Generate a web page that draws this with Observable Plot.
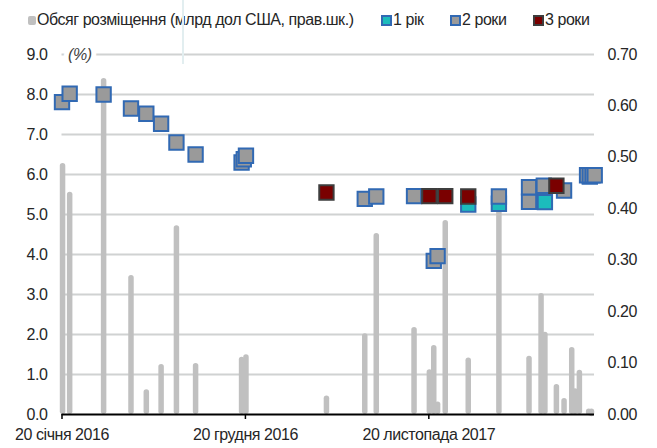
<!DOCTYPE html>
<html>
<head>
<meta charset="utf-8">
<script src="https://cdn.jsdelivr.net/npm/d3@7"></script>
<script src="https://cdn.jsdelivr.net/npm/@observablehq/plot@0.6"></script>
<style>
  body { margin: 0; background: #fff; }
  #wrap { position: relative; width: 657px; height: 448px; overflow: hidden;
          font-family: "Liberation Sans", Arial, sans-serif; color: #262626; }
  #legend { position: relative; height: 36px; font-size: 16px; letter-spacing: -0.45px; }
  .li { position: absolute; top: 10px; display: flex; align-items: center; white-space: nowrap; line-height: 20px; }
  .sw { box-sizing: border-box; margin-right: 1px; }
  #vline { position: absolute; left: 182px; top: 0; width: 2px; height: 64px; background: #e2eef0; z-index: 5; }
</style>
</head>
<body>
<div id="wrap">
  <div id="legend"></div>
  <div id="chart"></div>
  <div id="vline"></div>
</div>
<script>
// ---------- data ----------
const barDates = ["2016-01-21","2016-02-03","2016-04-05","2016-05-25","2016-06-22","2016-07-19","2016-08-16","2016-09-20","2016-12-13","2016-12-21",
                  "2017-05-17","2017-07-26","2017-08-16","2017-10-24","2017-11-21","2017-11-29","2017-12-06","2017-12-20",
                  "2018-01-31","2018-03-28","2018-05-22","2018-06-13","2018-06-20","2018-07-11","2018-07-25","2018-08-08","2018-08-14","2018-08-22","2018-09-08","2018-09-13"];
const barValues = [0.488,0.432,0.653,0.270,0.048,0.097,0.367,0.099,0.111,0.116,
                   0.036,0.157,0.352,0.169,0.087,0.134,0.024,0.377,
                   0.110,0.410,0.113,0.235,0.160,0.058,0.031,0.130,0.050,0.086,0.008,0.006];

const oneYearDates = ["2018-01-31","2018-03-28","2018-06-20","2018-09-10"];
const oneYearRates = [5.25,5.27,5.31,5.95];

const twoYearDates = ["2016-01-20","2016-02-03","2016-04-05","2016-05-25","2016-06-22","2016-07-19","2016-08-16","2016-09-20",
                      "2016-12-13","2016-12-17","2016-12-21","2017-07-26","2017-08-16","2017-10-24","2017-11-29","2017-12-06",
                      "2018-03-28","2018-05-22","2018-05-22","2018-06-18","2018-07-25","2018-09-05","2018-09-10","2018-09-15","2018-09-19"];
const twoYearRates = [7.81,8.02,8.00,7.65,7.52,7.27,6.80,6.50,
                      6.30,6.38,6.47,5.39,5.45,5.46,3.84,3.96,
                      5.45,5.32,5.68,5.72,5.60,5.98,5.98,5.98,5.98];

const threeYearDates = ["2017-05-17","2017-11-21","2017-12-20","2018-01-31","2018-07-11"];
const threeYearRates = [5.55,5.46,5.46,5.45,5.72];

const leftTicks = [0,1,2,3,4,5,6,7,8,9];
const rightTicks = [0,0.1,0.2,0.3,0.4,0.5,0.6,0.7];
const xTickDates = ["2016-01-20","2016-12-20","2017-11-20"];
const xTickLabels = ["20 січня 2016","20 грудня 2016","20 листопада 2017"];

const legendItems = [
  {label: "Обсяг розміщення (млрд дол США, прав.шк.)", left: 28, w: 8, h: 9, fill: "#c0c0c0", stroke: "none", radius: 2},
  {label: "1 рік", left: 381, w: 11, h: 11, fill: "#1cbcbc", stroke: "#3169b3"},
  {label: "2 роки", left: 450, w: 11, h: 11, fill: "#9a9a9a", stroke: "#3169b3"},
  {label: "3 роки", left: 533, w: 11, h: 11, fill: "#7a0000", stroke: "#3d3d3d"}
];

// ---------- build ----------
const leftMax = 9, rightMax = 0.7;
const toLeft = v => v * leftMax / rightMax;
const parse = s => new Date(s + "T00:00:00Z");

const bars = barDates.map((d, i) => ({date: parse(d), v: toLeft(barValues[i])}));
const s1 = oneYearDates.map((d, i) => ({date: parse(d), r: oneYearRates[i]}));
const s2 = twoYearDates.map((d, i) => ({date: parse(d), r: twoYearRates[i]}));
const s3 = threeYearDates.map((d, i) => ({date: parse(d), r: threeYearRates[i]}));
const xTicks = xTickDates.map(parse);

const legend = document.getElementById("legend");
legendItems.forEach(it => {
  const div = document.createElement("div");
  div.className = "li";
  div.style.left = it.left + "px";
  const sw = document.createElement("span");
  sw.className = "sw";
  sw.style.width = it.w + "px";
  sw.style.height = it.h + "px";
  sw.style.background = it.fill;
  sw.style.border = it.stroke === "none" ? "none" : "2px solid " + it.stroke;
  if (it.radius) sw.style.borderRadius = it.radius + "px";
  div.appendChild(sw);
  const t = document.createElement("span");
  t.textContent = it.label;
  div.appendChild(t);
  legend.appendChild(div);
});

const domainEnd = new Date(parse("2016-01-20").getTime() + 972.6 * 86400000);
const sqR = 8.1;

const chart = Plot.plot({
  width: 657,
  height: 412,
  marginLeft: 61.5,
  marginRight: 63,
  marginTop: 18,
  marginBottom: 34,
  x: {type: "utc", domain: [parse("2016-01-20"), domainEnd]},
  y: {domain: [0, leftMax]},
  style: {fontFamily: "'Liberation Sans', Arial, sans-serif", fontSize: "16px", letterSpacing: "-0.45px", color: "#262626", background: "#fff"},
  marks: [
    Plot.ruleY(leftTicks.filter(d => d > 0), {stroke: "#d0d2d2", strokeWidth: 2}),
    Plot.text(["(%)"], {frameAnchor: "top-left", dx: 6, lineAnchor: "middle", fontStyle: "italic", fill: "#404040",
                        stroke: "white", strokeWidth: 10, paintOrder: "stroke", fontSize: 16}),
    Plot.ruleX(bars, {x: "date", y1: "v", y2: 0, stroke: "#c0c0c0", strokeWidth: 5.5, strokeLinecap: "round", insetTop: 2.7, insetBottom: 2.7}),
    Plot.ruleY([0], {stroke: "#000", strokeWidth: 2}),
    Plot.dot(s1, {x: "date", y: "r", symbol: "square", r: sqR, fill: "#1cbcbc", stroke: "#3169b3", strokeWidth: 2}),
    Plot.dot(s2, {x: "date", y: "r", symbol: "square", r: sqR, fill: "#9a9a9a", stroke: "#3169b3", strokeWidth: 2}),
    Plot.dot(s3, {x: "date", y: "r", symbol: "square", r: sqR, fill: "#7a0000", stroke: "#3d3d3d", strokeWidth: 2}),
    Plot.axisX(xTicks, {tickSize: 5, tickPadding: 9, stroke: "#000", strokeWidth: 1.5, fill: "#262626",
                        tickFormat: d => xTickLabels[xTicks.findIndex(t => +t === +d)]}),
    Plot.axisY(leftTicks, {anchor: "left", tickSize: 0, tickPadding: 14.5, tickFormat: d => d.toFixed(1), fill: "#262626"}),
    Plot.axisY(rightTicks.map(toLeft), {anchor: "right", tickSize: 0, tickPadding: 13, fill: "#262626",
                                        tickFormat: d => (d * rightMax / leftMax).toFixed(2)})
  ]
});
document.getElementById("chart").appendChild(chart);
</script>
</body>
</html>
